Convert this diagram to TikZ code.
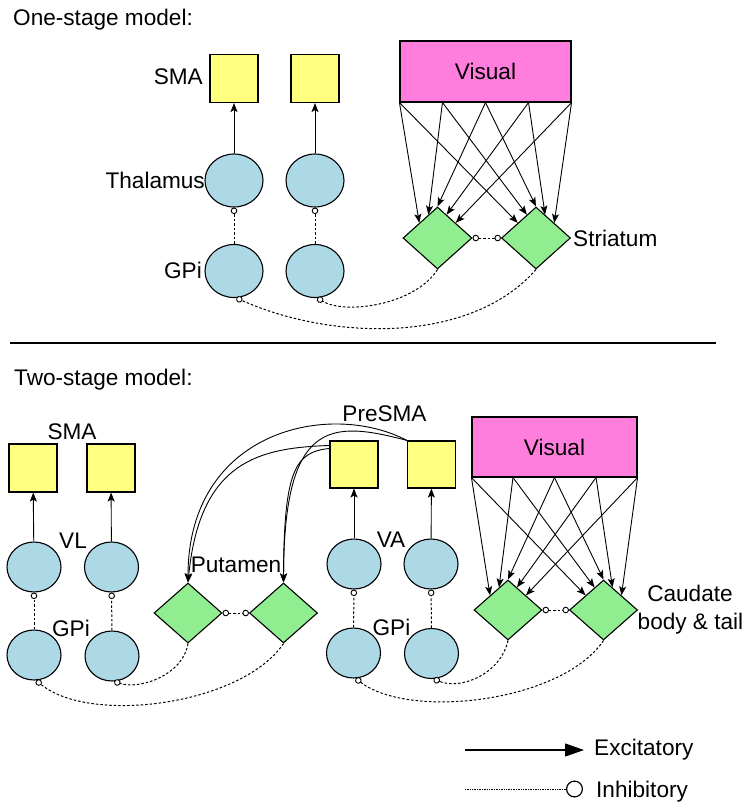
\documentclass[tikz,border=0pt]{standalone}
\usepackage{fontspec}
\setmainfont{Liberation Sans}
\usetikzlibrary{shapes.geometric,arrows.meta,calc}
\definecolor{smay}{RGB}{255,255,128}
\definecolor{cellb}{RGB}{173,216,230}
\definecolor{strg}{RGB}{144,238,144}
\definecolor{vism}{RGB}{255,125,220}
\begin{document}
\begin{tikzpicture}[x=1pt,y=-1pt,
 every node/.style={font=\fontsize{22.6}{26}\selectfont, inner sep=0pt},
 sq/.style={draw, fill=smay, line width=1.1pt, minimum width=48pt, minimum height=48pt},
 cell/.style={draw, fill=cellb, ellipse, line width=1.1pt, minimum width=58pt, minimum height=53pt},
 cellb/.style={cell, minimum width=54pt, minimum height=50pt},
 dia/.style={draw, fill=strg, diamond, line width=1.1pt, minimum width=69pt, minimum height=62pt},
 diab/.style={dia, minimum width=68pt, minimum height=60pt},
 vis/.style={draw, fill=vism, line width=1.1pt},
 exc/.style={-{Stealth[length=9pt,width=7pt,inset=2pt]}, line width=0.9pt},
 inh/.style={-{Circle[fill=white,length=6.5pt,line width=0.9pt]}, dash pattern=on 2.5pt off 2pt, line width=1pt},
 inhb/.style={{Circle[fill=white,length=6.5pt,line width=0.9pt]}-{Circle[fill=white,length=6.5pt,line width=0.9pt]}, dash pattern=on 2.5pt off 2pt, line width=1pt}
]
\useasboundingbox (0,0) rectangle (749,809);

% ---------- One-stage model ----------
\node[anchor=base west] (title1) at (13,25) {One-stage model:};
\node[sq] (smaA) at (234,78.5) {};
\node[sq] (smaB) at (315,78.5) {};
\node[cell] (thA) at (234,180.5) {};
\node[cell] (thB) at (315,180.5) {};
\node[cell] (gpA) at (234,271) {};
\node[cell] (gpB) at (315,271) {};
\node[vis, minimum width=171pt, minimum height=61pt] (visT) at (485.5,71.5) {Visual};
\node[dia] (stL) at (437.5,238) {};
\node[dia] (stR) at (536,238) {};

\node[anchor=east] (lSMA) at (203,77) {SMA};
\node[anchor=east] (lTh) at (205,180) {Thalamus};
\node[anchor=east] (lGP) at (202,270) {GPi};
\node[anchor=west] (lSt) at (573,238) {Striatum};

\draw[exc] (thA) -- (smaA);
\draw[exc] (thB) -- (smaB);
\draw[inh] (gpA) -- (thA);
\draw[inh] (gpB) -- (thB);
\draw[inhb] (stL) -- (stR);
\draw[inh] (stL.south) .. controls (415,305) and (345,315) .. (gpB.-85);
\draw[inh] (stR.south) .. controls (470,345) and (330,340) .. (gpA.-85);

% ---------- separator ----------
\coordinate (sep1) at (10,343);
\coordinate (sep2) at (716,343);
\draw[line width=1.2pt] (sep1) -- (sep2);

% ---------- Two-stage model ----------
\node[anchor=base west] (title2) at (14,385) {Two-stage model:};
\node[sq] (smC) at (33,468) {};
\node[sq] (smD) at (111,468) {};
\node[cellb] (vlA) at (34,567) {};
\node[cellb] (vlB) at (111.5,567) {};
\node[cellb] (gpC) at (34,655) {};
\node[cellb] (gpD) at (112,656) {};
\node[sq, minimum height=47pt] (psA) at (354,464.5) {};
\node[sq, minimum height=47pt] (psB) at (431.5,464.5) {};
\node[cellb] (vaA) at (354,564) {};
\node[cellb] (vaB) at (431,564) {};
\node[cellb] (gpE) at (353.5,653) {};
\node[cellb] (gpF) at (431.5,653.5) {};
\node[diab] (puL) at (188,613) {};
\node[diab] (puR) at (283.5,613) {};
\node[diab] (caL) at (508,610) {};
\node[diab] (caR) at (603.5,610) {};
\node[vis, minimum width=165pt, minimum height=60pt] (visB) at (554.5,447) {Visual};

\node (lSMA2) at (72,432) {SMA};
\node (lVL) at (73,541) {VL};
\node (lGP2) at (71,628) {GPi};
\node (lPre) at (384.5,414) {PreSMA};
\node (lVA) at (391,540) {VA};
\node (lGP3) at (391.5,627) {GPi};
\node (lPut) at (236,565) {Putamen};
\node (lCau) at (690,593) {Caudate};
\node[anchor=base] (lBody) at (690.5,629) {body \& tail};

\draw[exc] (vlA) -- (smC);
\draw[exc] (vlB) -- (smD);
\draw[exc] (vaA) -- (psA);
\draw[exc] (vaB) -- (psB);
\draw[inh] (gpC) -- (vlA);
\draw[inh] (gpD) -- (vlB);
\draw[inh] (gpE) -- (vaA);
\draw[inh] (gpF) -- (vaB);
\draw[inhb] (puL) -- (puR);
\draw[inhb] (caL) -- (caR);
\draw[inh] (puL.south) .. controls (183,675) and (140,690) .. (gpD.-85);
\draw[inh] (puR.south) .. controls (242,705) and (90,725) .. (gpC.-85);
\draw[inh] (caL.south) .. controls (500,675) and (460,690) .. (gpF.-85);
\draw[inh] (caR.south) .. controls (562,702) and (410,720) .. (gpE.-85);

% PreSMA to putamen
\draw[exc] (psB.north west) .. controls (330,400) and (188,430) .. (puL.north);
\draw[exc] (psB.north west) .. controls (330,420) and (284,420) .. (puR.north);
\draw[exc] ([yshift=-5pt]psA.north west) .. controls (260,448) and (200,460) .. (puL.north);
\draw[exc] ([yshift=-8pt]psA.north west) .. controls (295,452) and (284,470) .. (puR.north);

% ---------- Visual fan-out ----------
\foreach \V/\A/\B in {visT/stL/stR, visB/caL/caR} {
  \foreach \k/\f in {1/0,2/0.25,3/0.5,4/0.75,5/1} {
    \coordinate (\V-\k) at ($(\V.south west)!\f!(\V.south east)$);
  }
  \foreach \D in {\A,\B} {
    \coordinate (\D-1) at ($(\D.west)!0.48!(\D.north)$);
    \coordinate (\D-2) at ($(\D.west)!0.74!(\D.north)$);
    \coordinate (\D-3) at (\D.north);
    \coordinate (\D-4) at ($(\D.north)!0.26!(\D.east)$);
    \coordinate (\D-5) at ($(\D.north)!0.52!(\D.east)$);
  }
  \foreach \k in {1,...,5} {
    \draw[exc] (\V-\k) -- (\A-\k);
    \draw[exc] (\V-\k) -- (\B-\k);
  }
}

% ---------- Legend ----------
\coordinate (e1) at (465,750);
\coordinate (e2) at (584,750);
\draw[line width=1.2pt, -{Triangle[length=19pt,width=13pt]}] (e1) -- (e2);
\node[anchor=base west] (lExc) at (594,755) {Excitatory};
\coordinate (i1) at (465,789);
\coordinate (i2) at (583,789);
\draw[densely dotted, line width=0.7pt, -{Circle[fill=white,length=17pt,line width=1.2pt]}] (i1) -- (i2);
\node[anchor=base west] (lInh) at (596,797) {Inhibitory};
\end{tikzpicture}
\end{document}
